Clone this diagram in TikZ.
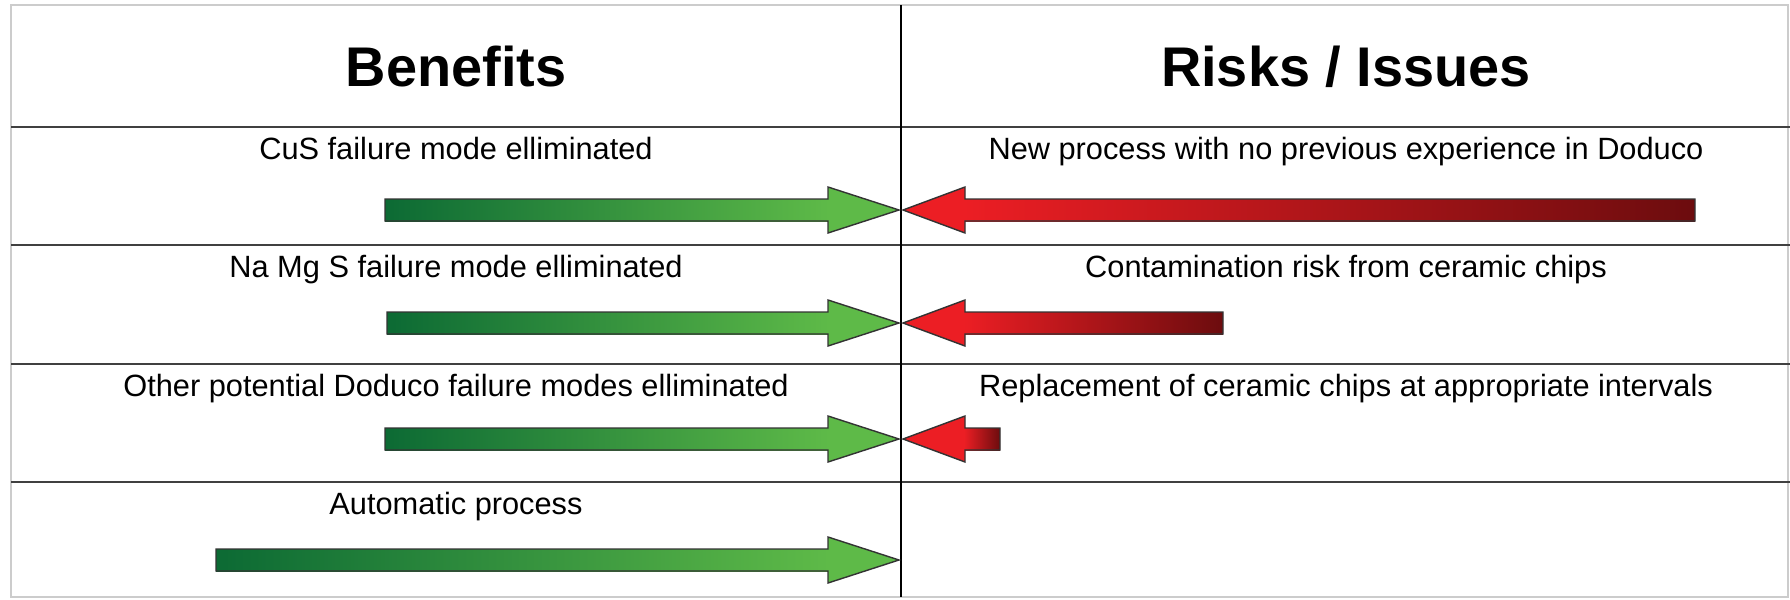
\documentclass[tikz,border=0pt]{standalone}
\usepackage{fontspec}
\setmainfont{Liberation Sans}
\definecolor{gdark}{RGB}{12,106,52}
\definecolor{gmid}{RGB}{28,176,74}
\definecolor{glight}{RGB}{94,186,72}
\definecolor{rbright}{RGB}{236,30,36}
\definecolor{rdark}{RGB}{108,12,14}
\begin{document}
\begin{tikzpicture}[
        x=0.01cm,y=-0.01cm,
        rule/.style={line width=0.7pt,black!75},
        frame/.style={line width=0.4pt,black!20},
        heading/.style={font=\fontsize{15.9}{18}\selectfont\bfseries,anchor=base},
        item/.style={font=\fontsize{8.75}{10}\selectfont,anchor=base},
        outline/.style={line width=0.4pt,black!80,line join=miter}
    ]
    \useasboundingbox (0,0) rectangle (1790,600);
    % table
    \draw [frame] (11,5) rectangle (1788,597);
    \foreach \y in {127,245,364,482} {
        \draw [rule] (11,\y) -- (1790,\y);
    }
    \draw [line width=0.45pt] (901,5) -- (901,597);

    % headings
    \node [heading] (benefits) at (456,87) {Benefits};
    \node [heading] (risks) at (1346,87) {Risks / Issues};

    % texts of the rows
    \node [item] (ben1) at (456,159) {CuS failure mode elliminated};
    \node [item] (ben2) at (456,277) {Na Mg S failure mode elliminated};
    \node [item] (ben3) at (456,396) {Other potential Doduco failure modes elliminated};
    \node [item] (ben4) at (456,514) {Automatic process};
    \node [item] (risk1) at (1346,159) {New process with no previous experience in Doduco};
    \node [item] (risk2) at (1346,277) {Contamination risk from ceramic chips};
    \node [item] (risk3) at (1346,396) {Replacement of ceramic chips at appropriate intervals};

    % green arrows
    \foreach \y/\t in {210/385,323/387,439/385,560/216} {
        \shade [left color=gdark,middle color=gmid,right color=glight] (\t,\y-11) rectangle (829,\y+11);
        \fill [glight] (828,\y-23) -- (899,\y) -- (828,\y+23) -- cycle;
        \draw [outline] (\t,\y-11) -- (828,\y-11) -- (828,\y-23) -- (899,\y)
            -- (828,\y+23) -- (828,\y+11) -- (\t,\y+11) -- cycle;
    }
    % red arrows
    \foreach \y/\t in {210/1695,323/1223,439/1000} {
        \shade [left color=rbright,middle color=rbright!80!rdark,right color=rdark] (964,\y-11) rectangle (\t,\y+11);
        \fill [rbright] (965,\y-23) -- (903,\y) -- (965,\y+23) -- cycle;
        \draw [outline] (\t,\y-11) -- (965,\y-11) -- (965,\y-23) -- (903,\y)
            -- (965,\y+23) -- (965,\y+11) -- (\t,\y+11) -- cycle;
    }
\end{tikzpicture}
\end{document}
